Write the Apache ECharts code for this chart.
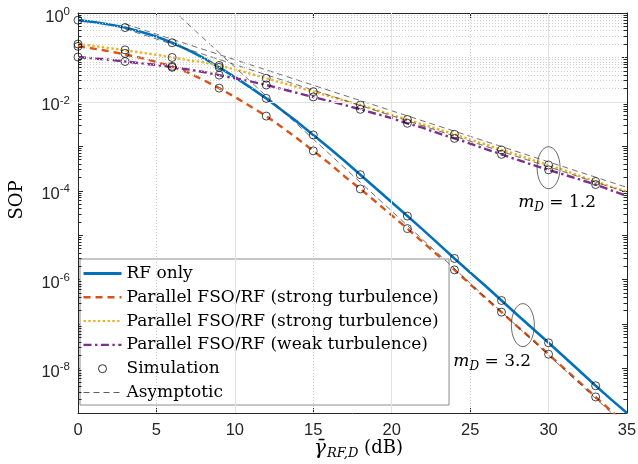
<!DOCTYPE html>
<html>
<head>
<meta charset="utf-8">
<script src="https://cdn.jsdelivr.net/npm/echarts@6/dist/echarts.min.js"></script>
<style>
  html, body { margin: 0; padding: 0; background: #fff; }
  #chart { width: 638px; height: 464px; }
</style>
</head>
<body>
<div id="chart"></div>
<script>
// SNR axis (dB) for the analytical curves
const snr = [0, 1, 2, 3, 4, 5, 6, 7, 8, 9, 10, 11, 12, 13, 14, 15, 16, 17,
  18, 19, 20, 21, 22, 23, 24, 25, 26, 27, 28, 29, 30, 31, 32, 33, 34, 35];

const rfOnly = [0.69, 0.63, 0.55, 0.47, 0.38, 0.295, 0.214, 0.148, 0.098, 0.060,
  0.036, 0.021, 0.012, 6.5e-3, 3.5e-3, 1.8e-3, 9.3e-4, 4.7e-4, 2.3e-4, 1.12e-4,
  5.5e-5, 2.7e-5, 1.32e-5, 6.3e-6, 3.0e-6, 1.45e-6, 7.1e-7, 3.4e-7, 1.62e-7,
  7.9e-8, 3.8e-8, 1.82e-8, 8.7e-9, 4.1e-9, 2.0e-9, 1.0e-9];

const strongMd32 = [0.178, 0.158, 0.138, 0.117, 0.098, 0.079, 0.063, 0.046, 0.031,
  0.0204, 0.0129, 7.9e-3, 4.8e-3, 2.7e-3, 1.48e-3, 7.9e-4, 4.2e-4, 2.1e-4, 1.1e-4,
  5.6e-5, 2.8e-5, 1.41e-5, 6.9e-6, 3.4e-6, 1.66e-6, 7.9e-7, 3.8e-7, 1.86e-7,
  8.9e-8, 4.4e-8, 2.1e-8, 1.0e-8, 4.8e-9, 2.3e-9, 1.1e-9, 5.2e-10];

const strongMd12 = [0.20, 0.182, 0.162, 0.145, 0.129, 0.115, 0.100, 0.087, 0.078,
  0.066, 0.054, 0.043, 0.034, 0.027, 0.0214, 0.0170, 0.0135, 0.0107, 8.5e-3,
  6.6e-3, 5.1e-3, 4.0e-3, 3.1e-3, 2.4e-3, 1.86e-3, 1.41e-3, 1.10e-3, 8.3e-4,
  6.5e-4, 4.9e-4, 3.8e-4, 2.9e-4, 2.14e-4, 1.62e-4, 1.23e-4, 9.5e-5];

const weakMd12 = [0.102, 0.095, 0.089, 0.081, 0.074, 0.068, 0.060, 0.054, 0.047,
  0.040, 0.034, 0.029, 0.024, 0.0195, 0.0158, 0.0129, 0.0105, 8.5e-3, 6.8e-3,
  5.4e-3, 4.3e-3, 3.3e-3, 2.6e-3, 1.95e-3, 1.51e-3, 1.15e-3, 8.7e-4, 6.6e-4,
  5.0e-4, 3.8e-4, 2.95e-4, 2.3e-4, 1.78e-4, 1.38e-4, 1.02e-4, 7.6e-5];

// Monte-Carlo points
const simSnr = [0, 3, 6, 9, 12, 15, 18, 21, 24, 27, 30, 33];
const simRf = [0.69, 0.47, 0.214, 0.060, 0.012, 1.8e-3, 2.3e-4, 2.7e-5, 3.0e-6, 3.4e-7, 3.8e-8, 4.1e-9];
const simStrong32 = [0.178, 0.123, 0.063, 0.0204, 4.8e-3, 7.9e-4, 1.1e-4, 1.41e-5, 1.66e-6, 1.86e-7, 2.1e-8, 2.3e-9];
const simStrong12 = [0.20, 0.148, 0.100, 0.066, 0.034, 0.017, 8.5e-3, 4.0e-3, 1.86e-3, 8.3e-4, 3.8e-4, 1.62e-4];
const simWeak = [0.102, 0.081, 0.060, 0.040, 0.024, 0.0129, 6.8e-3, 3.3e-3, 1.51e-3, 6.6e-4, 2.95e-4, 1.38e-4];

// asymptotes (straight in log scale)
const asymSnr32 = [6, 12, 18, 24, 30, 35];
const asym32 = [1.2, 1.36e-2, 1.55e-4, 1.77e-6, 2.0e-8, 4.8e-10];
const asymSnr12 = [3, 15, 35];
const asymStrong12 = [0.568, 0.0237, 1.19e-4];
const asymWeak12 = [0.44, 0.0184, 9.2e-5];

// annotation anchors (data coords)
const ringMd12 = [30, 3.3e-4];
const ringMd32 = [28.36, 9.5e-8];
const textMd12 = [28.06, 5.4e-5];
const textMd32 = [23.93, 1.4e-8];

const SERIF = '"DejaVu Serif", serif';
const SANS = '"Liberation Sans", Arial, sans-serif';
const AX = '#262626';

function pairs(xs, ys) {
  return xs.map((x, i) => [x, ys[i]]);
}

// grid lines + minor ticks for the log axis
const gridMarks = [];
for (let e = -9; e <= 0; e++) {
  for (let k = 1; k <= 9; k++) {
    const v = k * Math.pow(10, e);
    if (e === 0 || (e === -9 && k === 1)) continue;
    const major = k === 1 && e % 2 === 0;
    gridMarks.push({
      yAxis: v,
      lineStyle: major
        ? { color: '#e2e2e2', type: 'solid', width: 1 }
        : { color: '#cdcdcd', type: [1, 2], width: 1 }
    });
  }
}
[5, 10, 15, 20, 25, 30].forEach((x) => {
  gridMarks.push({
    xAxis: x,
    lineStyle: x % 10 === 0
      ? { color: '#e2e2e2', type: 'solid', width: 1 }
      : { color: '#c8c8c8', type: [1, 2], width: 1 }
  });
});
const minorLen = 3.5 * 35 / 548;
const minorTicks = [];
for (let e = -9; e < 0; e++) {
  for (let k = 2; k <= 9; k++) {
    const v = k * Math.pow(10, e);
    minorTicks.push([{ coord: [0, v] }, { coord: [minorLen, v] }]);
    minorTicks.push([{ coord: [35, v] }, { coord: [35 - minorLen, v] }]);
  }
}

const chart = echarts.init(document.getElementById('chart'));

const xAxisBase = {
  type: 'value',
  min: 0,
  max: 35,
  interval: 5,
  axisLine: { show: true, onZero: false, lineStyle: { color: AX, width: 1 } },
  axisTick: { show: true, inside: true, length: 5, lineStyle: { color: AX, width: 1 } },
  splitLine: { show: false }
};
const yAxisBase = {
  type: 'log',
  logBase: 10,
  min: 1e-9,
  max: 1,
  interval: 1,
  axisLine: { show: true, onZero: false, lineStyle: { color: AX, width: 1 } },
  axisTick: { show: true, inside: true, length: 5, lineStyle: { color: AX, width: 1 } },
  splitLine: { show: false },
  minorTick: { show: false },
  minorSplitLine: { show: false }
};

const series = [
  {
    name: 'grid',
    type: 'line',
    data: [],
    silent: true,
    z: 1,
    markLine: {
      silent: true,
      symbol: ['none', 'none'],
      label: { show: false },
      animation: false,
      data: gridMarks.concat(minorTicks.map((seg) => {
        return [Object.assign({}, seg[0], { lineStyle: { color: AX, width: 1, type: 'solid' } }), seg[1]];
      }))
    }
  },
  {
    name: 'RF only',
    type: 'line',
    data: pairs(snr, rfOnly),
    symbol: 'none',
    z: 3,
    lineStyle: { color: '#0072BD', width: 2.6 },
    itemStyle: { color: '#0072BD' }
  },
  {
    name: 'Parallel FSO/RF (strong turbulence)',
    type: 'line',
    data: pairs(snr, strongMd32),
    symbol: 'none',
    z: 3,
    lineStyle: { color: '#D95319', width: 2.4, type: [7, 5] },
    itemStyle: { color: '#D95319' }
  },
  {
    name: 'Parallel FSO/RF (strong turbulence) ',
    type: 'line',
    data: pairs(snr, strongMd12),
    symbol: 'none',
    z: 3,
    lineStyle: { color: '#EDB120', width: 2.4, type: [2.4, 2.4] },
    itemStyle: { color: '#EDB120' }
  },
  {
    name: 'Parallel FSO/RF (weak turbulence)',
    type: 'line',
    data: pairs(snr, weakMd12),
    symbol: 'none',
    z: 3,
    lineStyle: { color: '#7E2F8E', width: 2.4, type: [8, 3.5, 2.4, 3.5] },
    itemStyle: { color: '#7E2F8E' }
  }
];

[
  [asymSnr32, asym32],
  [asymSnr12, asymStrong12],
  [asymSnr12, asymWeak12]
].forEach((a) => {
  series.push({
    name: 'Asymptotic',
    type: 'line',
    data: pairs(a[0], a[1]),
    symbol: 'none',
    z: 4,
    lineStyle: { color: '#333', width: 0.7, type: [6, 4] },
    itemStyle: { color: '#333' }
  });
});

[simRf, simStrong32, simStrong12, simWeak].forEach((ys) => {
  series.push({
    name: 'Simulation',
    type: 'scatter',
    data: pairs(simSnr, ys),
    symbol: 'circle',
    symbolSize: 8,
    z: 5,
    itemStyle: { color: 'rgba(0,0,0,0)', borderColor: '#000', borderWidth: 0.9 }
  });
});

const lineIcon = { color: 'transparent', borderColor: 'transparent', borderWidth: 0 };

chart.setOption({
  animation: false,
  backgroundColor: '#fff',
  grid: { left: 78, right: 11, top: 13, bottom: 51, containLabel: false, outerBoundsMode: 'none' },
  legend: {
    orient: 'vertical',
    left: 80,
    top: 259,
    itemWidth: 38,
    itemHeight: 8,
    itemGap: 6.8,
    padding: [6, 5, 4, 2],
    backgroundColor: '#fff',
    borderColor: '#8c8c8c',
    borderWidth: 1,
    borderRadius: 0,
    selectedMode: false,
    textStyle: { fontFamily: SERIF, fontSize: 17, color: '#000', lineHeight: 14 },
    itemStyle: lineIcon,
    data: [
      { name: 'RF only', itemStyle: lineIcon, lineStyle: { width: 3 } },
      { name: 'Parallel FSO/RF (strong turbulence)', itemStyle: lineIcon, lineStyle: { width: 2.4 } },
      { name: 'Parallel FSO/RF (strong turbulence) ', itemStyle: lineIcon, lineStyle: { width: 2 } },
      { name: 'Parallel FSO/RF (weak turbulence)', itemStyle: lineIcon, lineStyle: { width: 2.4 } },
      { name: 'Simulation', icon: 'circle', itemStyle: { color: 'transparent', borderColor: '#000', borderWidth: 1 } },
      { name: 'Asymptotic', itemStyle: lineIcon, lineStyle: { width: 0.8 } }
    ]
  },
  xAxis: [
    Object.assign({}, xAxisBase, {
      position: 'bottom',
      axisLabel: { show: true, margin: 9, fontFamily: SANS, fontSize: 16.5, color: AX },
      name: '{g|\u03b3\u0304}{s|RF,D}{n| (dB)}',
      nameLocation: 'middle',
      nameGap: 24,
      nameMoveOverlap: false,
      nameTextStyle: {
        color: '#000',
        fontFamily: SERIF,
        fontSize: 18,
        padding: [0, 0, 0, 12],
        rich: {
          g: { fontFamily: SERIF, fontStyle: 'italic', fontSize: 20, color: '#000' },
          s: { fontFamily: SERIF, fontStyle: 'italic', fontSize: 13, color: '#000', padding: [10, 0, 0, 1] },
          n: { fontFamily: SERIF, fontSize: 18, color: '#000' }
        }
      }
    }),
    Object.assign({}, xAxisBase, { position: 'top', axisLabel: { show: false } })
  ],
  yAxis: [
    Object.assign({}, yAxisBase, {
      position: 'left',
      axisLabel: {
        show: true,
        margin: 8,
        color: AX,
        formatter: function (v) {
          const e = Math.round(Math.log10(v));
          return e % 2 === 0 ? '{b|10}{s|' + e + '}' : '';
        },
        rich: {
          b: { fontFamily: SANS, fontSize: 16.5, color: AX, padding: [8, 0, 0, 0] },
          s: { fontFamily: SANS, fontSize: 11.5, color: AX, padding: [0, 0, 3, 0] }
        }
      },
      name: 'SOP',
      nameLocation: 'middle',
      nameGap: 52,
      nameRotate: 90,
      nameMoveOverlap: false,
      nameTextStyle: { color: '#000', fontFamily: SERIF, fontSize: 18, padding: [0, 0, 0, 26] }
    }),
    Object.assign({}, yAxisBase, { position: 'right', axisLabel: { show: false } })
  ],
  series: series
});

function placeNotes() {
  const p = (d) => chart.convertToPixel({ xAxisIndex: 0, yAxisIndex: 0 }, d);
  const r1 = p(ringMd12);
  const r2 = p(ringMd32);
  const t1 = p(textMd12);
  const t2 = p(textMd32);
  const rich = {
    m: { fontFamily: SERIF, fontStyle: 'italic', fontSize: 17, fill: '#000' },
    d: { fontFamily: SERIF, fontStyle: 'italic', fontSize: 12, fill: '#000', padding: [10, 0, 0, 0] },
    n: { fontFamily: SERIF, fontSize: 17, fill: '#000' }
  };
  chart.setOption({
    graphic: [
      { type: 'ellipse', z: 20, shape: { cx: r1[0], cy: r1[1], rx: 11.5, ry: 21 },
        style: { fill: 'none', stroke: '#444', lineWidth: 0.8 } },
      { type: 'ellipse', z: 20, shape: { cx: r2[0], cy: r2[1], rx: 11.5, ry: 21.5 },
        style: { fill: 'none', stroke: '#444', lineWidth: 0.8 } },
      { type: 'text', z: 20, x: t1[0], y: t1[1],
        style: { text: '{m|m}{d|D}{n| = 1.2}', rich: rich, verticalAlign: 'middle', align: 'left' } },
      { type: 'text', z: 20, x: t2[0], y: t2[1],
        style: { text: '{m|m}{d|D}{n| = 3.2}', rich: rich, verticalAlign: 'middle', align: 'left' } }
    ]
  });
}
placeNotes();
</script>
</body>
</html>
